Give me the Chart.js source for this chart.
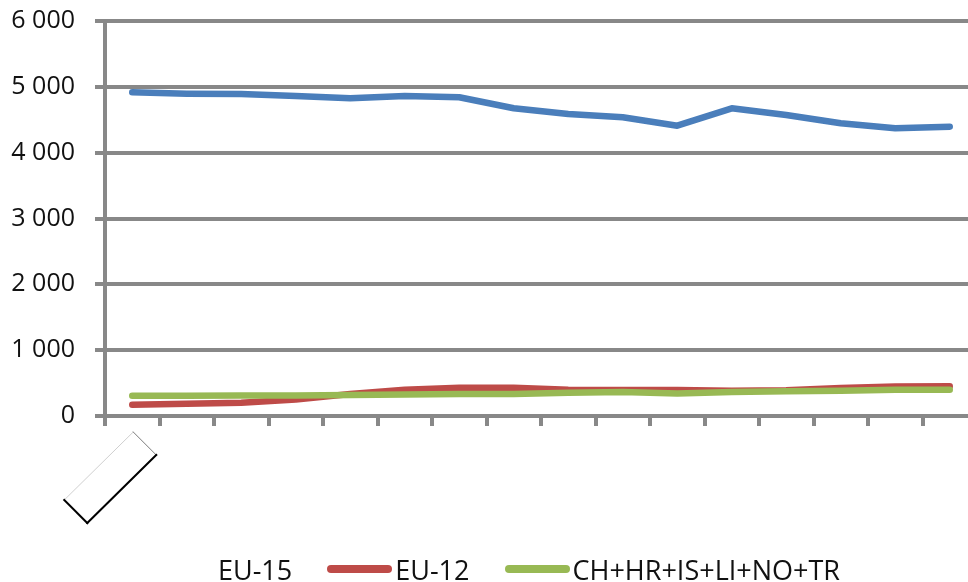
<!DOCTYPE html>
<html>
<head>
<meta charset="utf-8">
<script src="https://cdn.jsdelivr.net/npm/chart.js@4/dist/chart.umd.min.js"></script>
<style>
  html, body { margin: 0; padding: 0; background: #fff; overflow: hidden; width: 968px; height: 582px; }
  #wrap { position: relative; width: 968px; height: 582px; overflow: hidden; }
  canvas { position: absolute; left: 0; top: -14px; }
  #legend { position: absolute; left: 150px; top: 553px; height: 32px; display: flex; align-items: center;
            font-family: "Open Sans", "Noto Sans", sans-serif; font-size: 27px; color: #111; white-space: nowrap; }
  .item { display: flex; align-items: center; margin-right: 35px; }
  .swatch { width: 65px; height: 8px; border-radius: 4px; margin-right: 3px; }
</style>
</head>
<body>
<div id="wrap">
  <canvas id="c" width="980" height="596"></canvas>
  <div id="legend"></div>
</div>
<script>
// ---- data ----
const categories = ['', '', '', '', '', '', '', '', '', '', '', '', '', '', '', ''];
const seriesNames = ['EU-15', 'EU-12', 'CH+HR+IS+LI+NO+TR'];
const eu15 = [4917, 4896, 4891, 4861, 4826, 4860, 4841, 4675, 4588, 4537, 4410, 4674, 4572, 4446, 4370, 4395];
const eu12 = [170, 185, 200, 250, 335, 400, 430, 428, 400, 395, 395, 385, 390, 425, 450, 452];
const other = [309, 309, 310, 312, 318, 325, 334, 334, 355, 365, 340, 365, 375, 385, 400, 400];
const yTicks = [0, 1000, 2000, 3000, 4000, 5000, 6000];
const yTickLabels = ['0', '1 000', '2 000', '3 000', '4 000', '5 000', '6 000'];

const colors = ['#4a7ebb', '#be4b48', '#98b954'];
const legendVisible = [false, true, true];
const gray = '#888888';
const FONT = { family: '"Open Sans", "Noto Sans", sans-serif', size: 25 };

// Empty rotated category-label box below the first category (as in the reference)
const labelBoxPlugin = {
  id: 'labelBox',
  afterDraw(chart) {
    const xs = chart.scales.x;
    const ctx = chart.ctx;
    const tx = xs.getPixelForValue(0) + 1, ty = xs.top + 16;
    const T = [tx, ty], R = [tx + 23, ty + 23], L = [tx - 69, ty + 68], B = [tx - 46, ty + 91];
    ctx.save();
    ctx.lineCap = 'square';
    const seg = (a, b, c, w) => { ctx.beginPath(); ctx.moveTo(a[0], a[1]); ctx.lineTo(b[0], b[1]); ctx.strokeStyle = c; ctx.lineWidth = w; ctx.stroke(); };
    seg(T, L, '#cfcfcf', 1);
    seg(T, R, '#7a7a7a', 1);
    seg(L, B, '#000', 2);
    seg(B, R, '#000', 2);
    ctx.restore();
  }
};

const mk = (i, data, order) => ({
  label: seriesNames[i], data, borderColor: colors[i], backgroundColor: colors[i],
  borderWidth: 6.5, pointRadius: 0, tension: 0, fill: false,
  borderCapStyle: 'round', borderJoinStyle: 'round', order
});

new Chart(document.getElementById('c'), {
  type: 'line',
  data: {
    labels: categories,
    datasets: [mk(0, eu15, 2), mk(1, eu12, 1), mk(2, other, 0)]
  },
  options: {
    responsive: false,
    devicePixelRatio: 1,
    animation: false,
    layout: { padding: { top: 7, right: 3, bottom: 0, left: 0 } },
    plugins: { legend: { display: false }, tooltip: { enabled: false } },
    scales: {
      x: {
        offset: true,
        grid: { offset: true, drawOnChartArea: false, drawTicks: true, tickLength: 10, color: gray, lineWidth: 4 },
        border: { display: true, color: gray, width: 4 },
        ticks: { display: false },
        afterFit(s) { s.height = 166; }
      },
      y: {
        min: 0, max: 6000,
        afterBuildTicks(s) { s.ticks = yTicks.map(v => ({ value: v })); },
        grid: { color: gray, lineWidth: 4, drawTicks: true, tickLength: 10 },
        border: { display: true, color: gray, width: 4 },
        ticks: {
          font: FONT, color: '#111', padding: 20,
          callback: (v) => { const k = yTicks.indexOf(v); return k >= 0 ? yTickLabels[k] : ''; }
        },
        afterFit(s) { s.width = 105; }
      }
    }
  },
  plugins: [labelBoxPlugin]
});

// HTML legend
const lg = document.getElementById('legend');
seriesNames.forEach((n, i) => {
  const it = document.createElement('div'); it.className = 'item';
  const sw = document.createElement('div'); sw.className = 'swatch';
  sw.style.background = legendVisible[i] ? colors[i] : 'transparent';
  const tx = document.createElement('span'); tx.textContent = n;
  it.appendChild(sw); it.appendChild(tx); lg.appendChild(it);
});
</script>
</body>
</html>
